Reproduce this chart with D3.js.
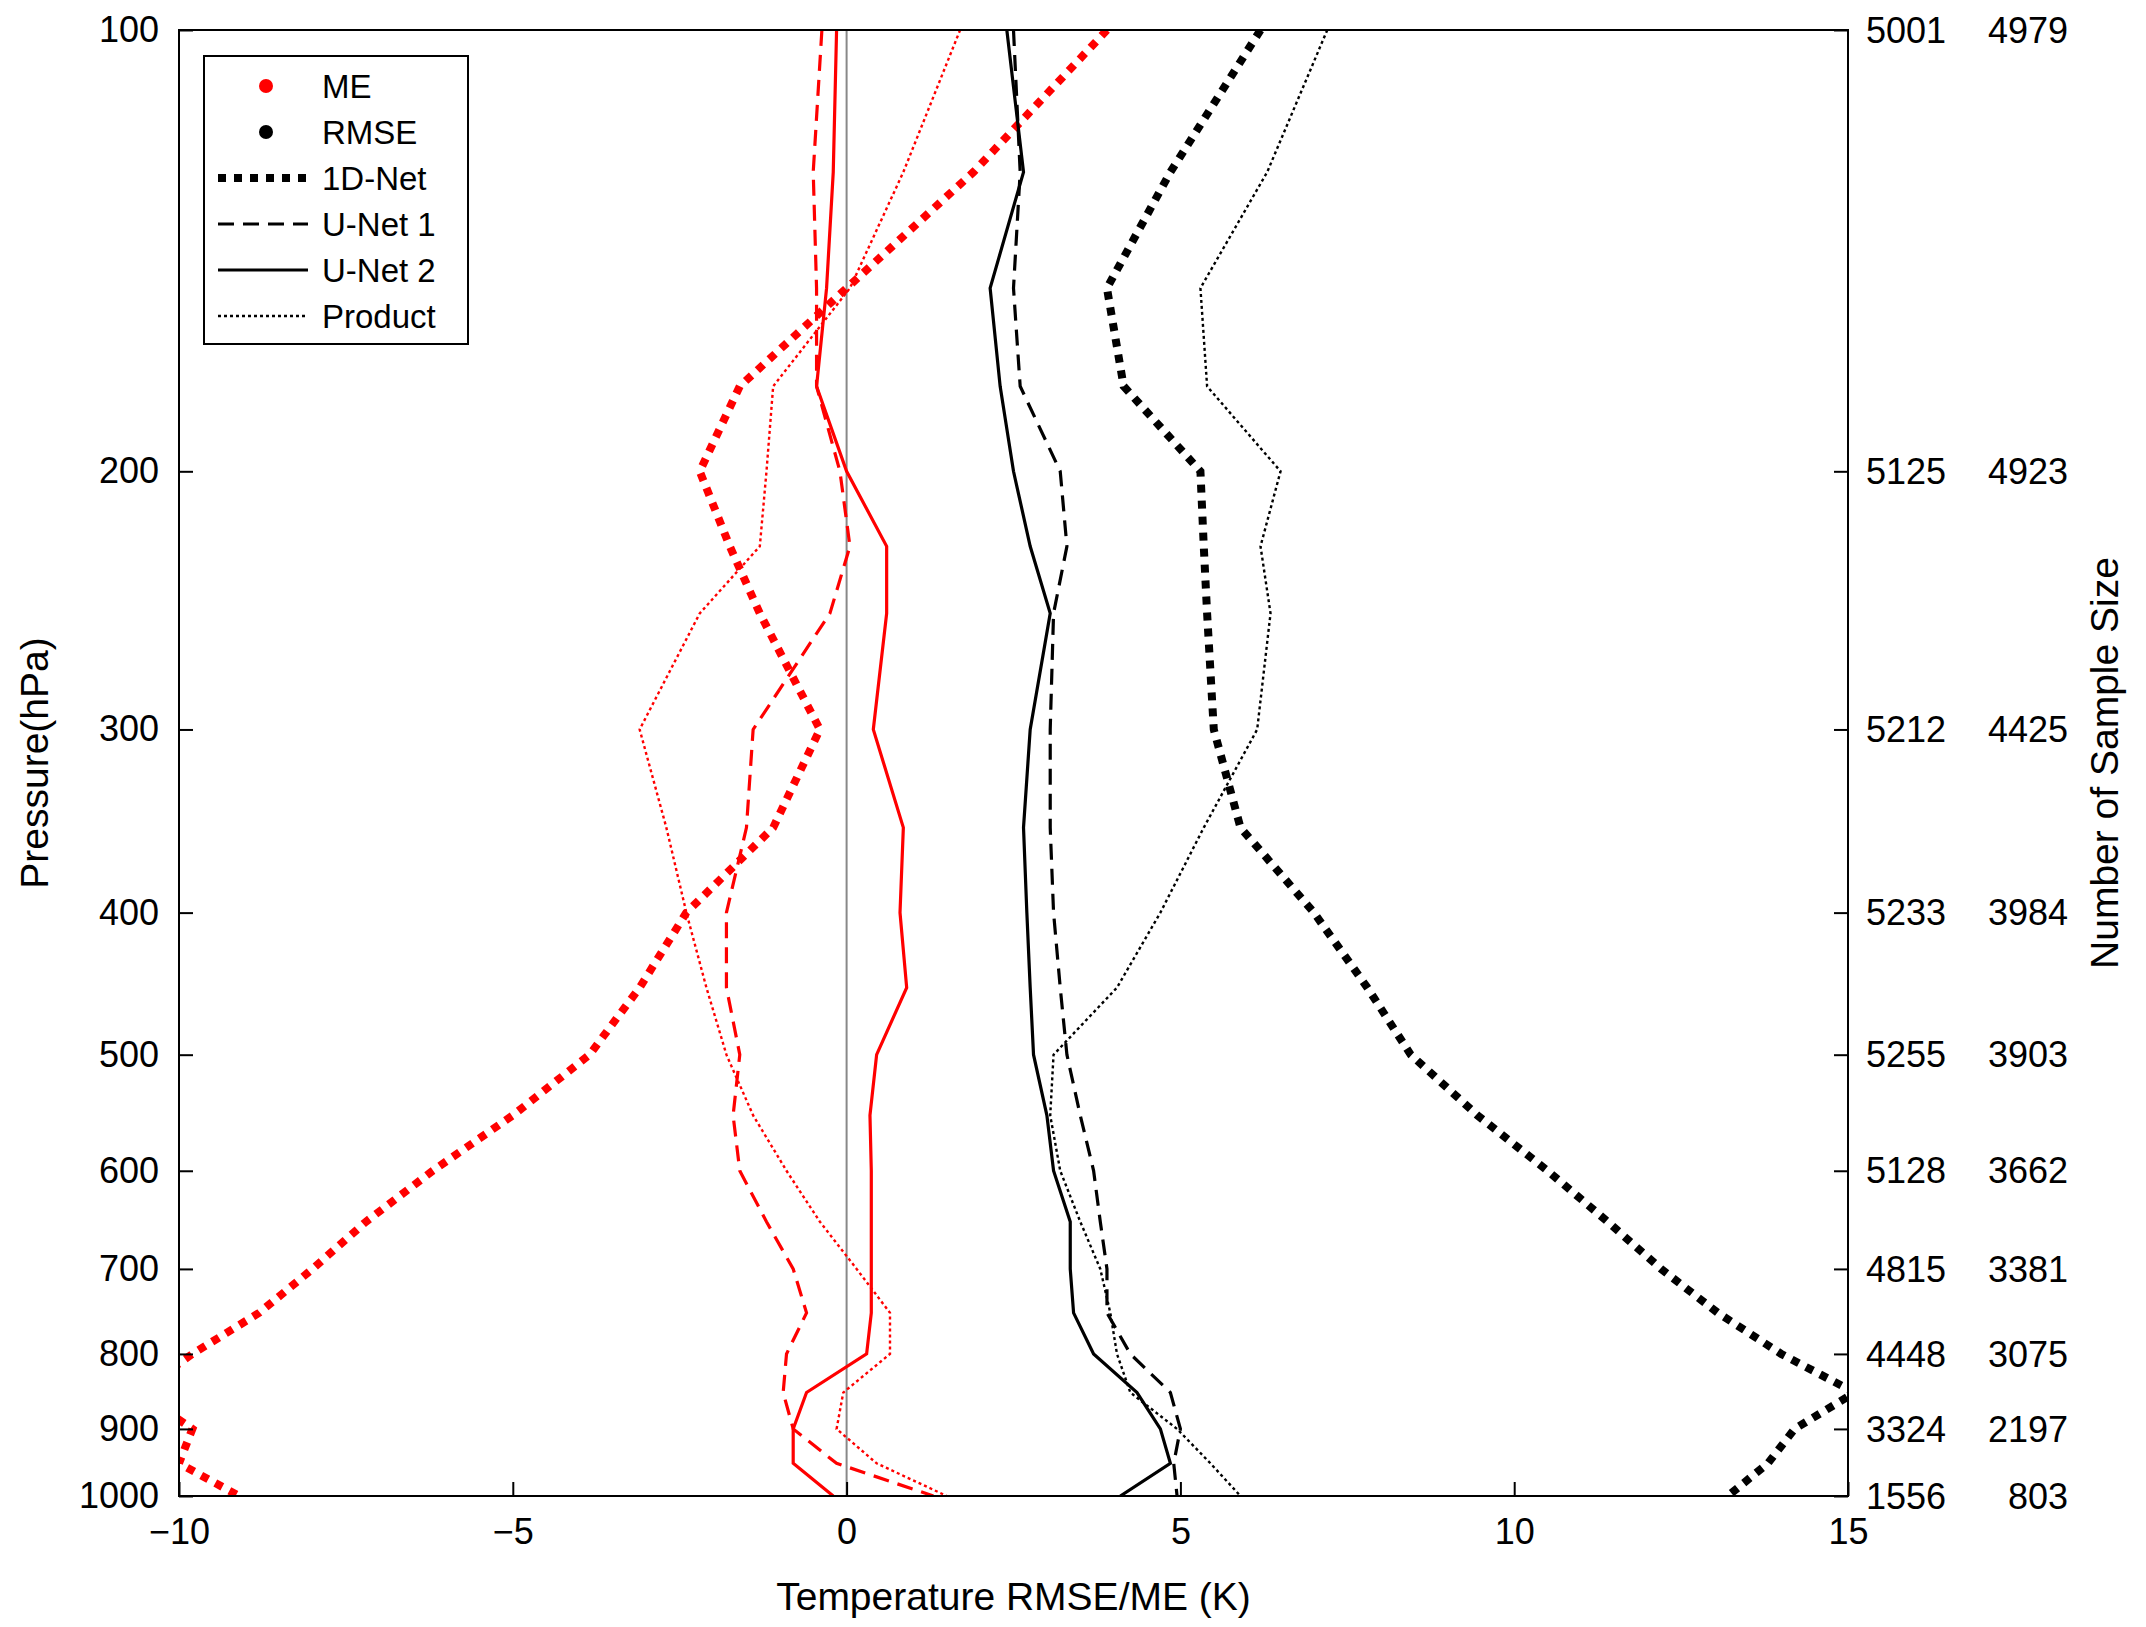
<!DOCTYPE html>
<html><head><meta charset="utf-8">
<script src="https://cdn.jsdelivr.net/npm/d3@7"></script>
<style>body{margin:0;background:#fff}svg{font-family:"Liberation Sans",Arial,sans-serif}</style>
</head><body>
<svg id="c" width="2146" height="1627"></svg>
<script>
const levels=[100,125,150,175,200,225,250,300,350,400,450,500,550,600,650,700,750,800,850,900,950,1000];
const me1D=[3.9,1.9,0,-1.6,-2.2,-1.75,-1.3,-0.4,-1.1,-2.4,-3.1,-3.85,-5.0,-6.2,-7.2,-8.0,-8.8,-9.8,-10.6,-9.8,-10.0,-9.1];
const meU1=[-0.37,-0.5,-0.45,-0.45,-0.1,0.05,-0.25,-1.4,-1.5,-1.8,-1.8,-1.6,-1.7,-1.6,-1.2,-0.8,-0.6,-0.9,-0.95,-0.8,-0.15,1.3];
const meU2=[-0.15,-0.2,-0.3,-0.45,0,0.6,0.6,0.4,0.85,0.8,0.9,0.45,0.35,0.37,0.37,0.37,0.37,0.3,-0.6,-0.8,-0.8,-0.2];
const meProd=[1.7,0.85,0.05,-1.1,-1.2,-1.3,-2.2,-3.1,-2.7,-2.4,-2.1,-1.8,-1.4,-0.9,-0.4,0.15,0.65,0.65,-0.05,-0.15,0.45,1.5];
const rm1D=[6.2,4.85,3.9,4.15,5.3,5.35,5.4,5.5,5.9,7.0,7.8,8.45,9.45,10.5,11.4,12.2,13.05,14.0,15.1,14.2,13.8,13.2];
const rmU1=[2.5,2.6,2.5,2.6,3.2,3.3,3.1,3.05,3.05,3.1,3.2,3.3,3.5,3.7,3.8,3.9,3.9,4.25,4.85,5.0,4.9,4.95];
const rmU2=[2.4,2.65,2.15,2.3,2.5,2.75,3.05,2.75,2.65,2.7,2.75,2.8,3.0,3.1,3.35,3.35,3.4,3.7,4.35,4.7,4.85,4.1];
const rmProd=[7.2,6.3,5.3,5.4,6.5,6.2,6.35,6.15,5.35,4.7,4.05,3.1,3.05,3.2,3.5,3.8,3.95,4.05,4.25,4.95,5.45,5.9];
const yTicks=[100,200,300,400,500,600,700,800,900,1000];
const xTicks=[-10,-5,0,5,10,15];
const sampleP=[100,200,300,400,500,600,700,800,900,1000];
const sampleA=["5001","5125","5212","5233","5255","5128","4815","4448","3324","1556"];
const sampleB=["4979","4923","4425","3984","3903","3662","3381","3075","2197","803"];

const L=179,R=1848,T=30,B=1496;
const svg=d3.select("#c");
const x=d3.scaleLinear().domain([-10,15]).range([L,R]);
const y=d3.scaleLog().domain([100,1000]).range([T,B]);
svg.append("clipPath").attr("id","cp").append("rect").attr("x",L).attr("y",T).attr("width",R-L).attr("height",B-T);
const g=svg.append("g").attr("clip-path","url(#cp)");
g.append("line").attr("x1",x(0)).attr("x2",x(0)).attr("y1",T).attr("y2",B).attr("stroke","#888").attr("stroke-width",2);
const styles={"1D":{w:8,d:"8 8"},"U1":{w:3.2,d:"16 9"},"U2":{w:3.2,d:null},"P":{w:2.4,d:"3 3"}};
const series=[[me1D,"red","1D"],[meU1,"red","U1"],[meU2,"red","U2"],[meProd,"red","P"],[rm1D,"black","1D"],[rmU1,"black","U1"],[rmU2,"black","U2"],[rmProd,"black","P"]];
const line=d3.line().x(d=>x(d[0])).y(d=>y(d[1]));
series.forEach(([v,c,s])=>{
  g.append("path").attr("d",line(v.map((d,i)=>[d,levels[i]]))).attr("fill","none").attr("stroke",c==="red"?"#ff0000":"#000")
   .attr("stroke-width",styles[s].w).attr("stroke-dasharray",styles[s].d);
});
svg.append("rect").attr("x",L).attr("y",T).attr("width",R-L).attr("height",B-T).attr("fill","none").attr("stroke","#000").attr("stroke-width",2);
const fs=36;
const ax=svg.append("g").attr("transform",`translate(0,${B})`).call(d3.axisBottom(x).tickValues(xTicks).tickSize(-14).tickPadding(22));
const ay=svg.append("g").attr("transform",`translate(${L},0)`).call(d3.axisLeft(y).tickValues(yTicks).tickFormat(d3.format("d")).tickSize(-14).tickPadding(20));
const ay2=svg.append("g").attr("transform",`translate(${R},0)`).call(d3.axisRight(y).tickValues(yTicks).tickFormat("").tickSize(-14));
[ax,ay,ay2].forEach(a=>{a.select(".domain").remove();a.selectAll("line").attr("stroke","#000").attr("stroke-width",2);a.selectAll("text").attr("font-size",fs).attr("fill","#000").attr("font-family","Liberation Sans, Arial");});
sampleP.forEach((p,i)=>{
  svg.append("text").attr("x",1866).attr("y",y(p)).attr("dy","0.35em").attr("font-size",fs).text(sampleA[i]);
  svg.append("text").attr("x",2068).attr("y",y(p)).attr("dy","0.35em").attr("font-size",fs).attr("text-anchor","end").text(sampleB[i]);
});
svg.append("text").attr("x",(L+R)/2).attr("y",1610).attr("text-anchor","middle").attr("font-size",39).text("Temperature RMSE/ME (K)");
svg.append("text").attr("transform",`translate(48,${(T+B)/2}) rotate(-90)`).attr("text-anchor","middle").attr("font-size",39).text("Pressure(hPa)");
svg.append("text").attr("transform",`translate(2118,${(T+B)/2}) rotate(-90)`).attr("text-anchor","middle").attr("font-size",39).text("Number of Sample Size");
const lg=svg.append("g").attr("transform","translate(204,56)");
lg.append("rect").attr("width",264).attr("height",288).attr("fill","#fff").attr("stroke","#000").attr("stroke-width",2);
const items=[["ME","dot","red"],["RMSE","dot","black"],["1D-Net","1D"],["U-Net 1","U1"],["U-Net 2","U2"],["Product","P"]];
items.forEach((it,i)=>{
  const yy=30+i*46;
  if(it[1]==="dot") lg.append("circle").attr("cx",62).attr("cy",yy).attr("r",7).attr("fill",it[2]==="red"?"#ff0000":"#000");
  else lg.append("line").attr("x1",14).attr("x2",104).attr("y1",yy).attr("y2",yy).attr("stroke","#000").attr("stroke-width",styles[it[1]].w).attr("stroke-dasharray",styles[it[1]].d);
  lg.append("text").attr("x",118).attr("y",yy).attr("dy","0.35em").attr("font-size",33).text(it[0]);
});
</script>
</body></html>
